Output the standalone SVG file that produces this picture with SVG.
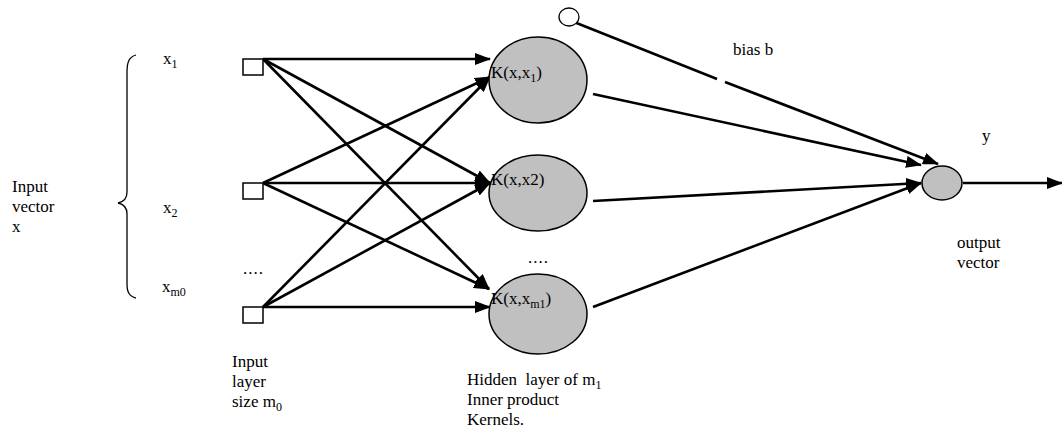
<svg xmlns="http://www.w3.org/2000/svg" width="1062" height="443" viewBox="0 0 1062 443">
  <style>
    text { font-family: "Liberation Serif", "Times New Roman", serif; font-size: 17px; fill: #000; white-space: pre; }
    .sub { font-size: 12px; }
    .edge { stroke: #000; stroke-width: 2.6; fill: none; }
    .arrow { marker-end: url(#head); }
    .inp { fill: #fff; stroke: #000; stroke-width: 1.5; }
    .kern { fill: #c0c0c0; stroke: #000; stroke-width: 1.5; }
  </style>
  <defs>
    <marker id="head" markerUnits="userSpaceOnUse" markerWidth="16" markerHeight="12" refX="15" refY="6" orient="auto">
      <path d="M0,0 L16,6 L0,12 Z" fill="#000"/>
    </marker>
  </defs>

  <rect width="1062" height="443" fill="#fff"/>

  <!-- input vector label and brace -->
  <g id="input-vector">
    <text x="12" y="192">Input</text>
    <text x="12" y="212">vector</text>
    <text x="12" y="232">x</text>
    <path d="M136,55 C129,57 127,62 127,72 L127,192 C127,199 123,202 118,203 C123,204 127,207 127,214 L127,284 C127,292 129,296 136,298" fill="none" stroke="#000" stroke-width="1.3"/>
    <text x="163" y="64">x<tspan class="sub" dy="4">1</tspan></text>
    <text x="163" y="213">x<tspan class="sub" dy="4">2</tspan></text>
    <text x="162" y="292">x<tspan class="sub" dy="4">m0</tspan></text>
  </g>

  <!-- connectors -->
  <g id="connectors">
    <line class="edge arrow" x1="263" y1="59" x2="490" y2="59"/>
    <line class="edge arrow" x1="263" y1="59" x2="490" y2="183"/>
    <line class="edge arrow" x1="263" y1="59" x2="489" y2="289"/>
    <line class="edge arrow" x1="263" y1="183" x2="490" y2="77"/>
    <line class="edge arrow" x1="263" y1="183" x2="490" y2="183"/>
    <line class="edge arrow" x1="263" y1="183" x2="489" y2="289"/>
    <line class="edge arrow" x1="263" y1="307" x2="490" y2="77"/>
    <line class="edge arrow" x1="263" y1="307" x2="490" y2="183"/>
    <line class="edge arrow" x1="263" y1="307" x2="490" y2="307"/>
    <line class="edge arrow" x1="593" y1="94" x2="921" y2="165"/>
    <line class="edge arrow" x1="593" y1="201" x2="921" y2="183"/>
    <line class="edge arrow" x1="593" y1="307" x2="921" y2="183"/>
    <line class="edge" x1="574" y1="22" x2="717" y2="79"/>
    <line class="edge arrow" x1="725" y1="82" x2="938" y2="164"/>
    <line class="edge arrow" x1="963" y1="183" x2="1062" y2="183"/>
  </g>

  <!-- input layer -->
  <g id="in-1"><rect class="inp" x="243" y="59" width="20" height="16"/></g>
  <g id="in-2"><rect class="inp" x="243" y="183" width="20" height="16"/></g>
  <g id="in-m0"><rect class="inp" x="243" y="307" width="20" height="16"/></g>
  <text x="243" y="274" style="letter-spacing:1px">....</text>
  <g id="input-layer-label">
    <text x="232" y="367">Input</text>
    <text x="232" y="387">layer</text>
    <text x="232" y="407">size m<tspan class="sub" dy="4">0</tspan></text>
  </g>

  <!-- hidden kernel layer -->
  <g id="k-1">
    <ellipse class="kern" cx="538" cy="80" rx="49" ry="43"/>
    <text x="491" y="78">K(x,x<tspan class="sub" dy="4">1</tspan><tspan dy="-4">)</tspan></text>
  </g>
  <g id="k-2">
    <ellipse class="kern" cx="538" cy="193" rx="49" ry="38"/>
    <text x="491" y="185">K(x,x2)</text>
  </g>
  <g id="k-m1">
    <ellipse class="kern" cx="538" cy="314" rx="49" ry="40"/>
    <text x="491" y="304">K(x,x<tspan class="sub" dy="4">m1</tspan><tspan dy="-4">)</tspan></text>
  </g>
  <text x="528" y="263" style="letter-spacing:1px">....</text>
  <g id="hidden-layer-label">
    <text x="467" y="385">Hidden  layer of m<tspan class="sub" dy="4">1</tspan></text>
    <text x="467" y="405">Inner product</text>
    <text x="467" y="425">Kernels.</text>
  </g>

  <!-- bias -->
  <g id="bias">
    <ellipse cx="569" cy="17" rx="10" ry="9" fill="#fff" stroke="#000" stroke-width="1.3"/>
    <text x="733" y="55">bias b</text>
  </g>

  <!-- output -->
  <g id="output">
    <ellipse class="kern" cx="942" cy="183" rx="20" ry="17"/>
    <text x="982" y="141">y</text>
    <text x="957" y="248">output</text>
    <text x="957" y="268">vector</text>
  </g>
</svg>
